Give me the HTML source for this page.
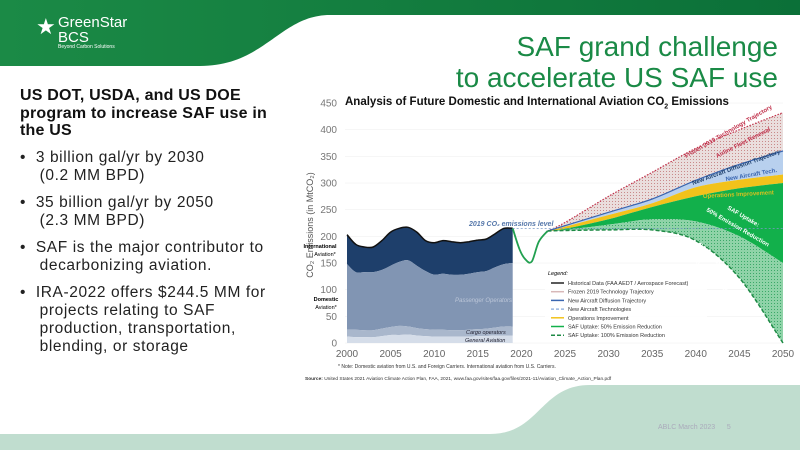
<!DOCTYPE html>
<html><head><meta charset="utf-8"><style>
body{margin:0;width:800px;height:450px;overflow:hidden;background:#fff;font-family:"Liberation Sans",sans-serif;position:relative}
.t{position:absolute;white-space:nowrap}
</style></head><body>
<svg width="800" height="450" style="position:absolute;left:0;top:0">
<defs>
<linearGradient id="hg" x1="0" x2="1"><stop offset="0" stop-color="#1b8a46"/><stop offset="1" stop-color="#0b7038"/></linearGradient>
<pattern id="rd" width="3" height="3" patternUnits="userSpaceOnUse"><rect width="3" height="3" fill="#eadedd"/><rect width="1" height="1" fill="#c98a8a"/></pattern>
<pattern id="gd" width="3" height="3" patternUnits="userSpaceOnUse"><rect width="3" height="3" fill="#8fd3a8"/><rect width="1" height="1" fill="#3aa868"/></pattern>
</defs>
<path d="M0,0H800V15H330C280,15 265,66 200,66H0Z" fill="url(#hg)"/>
<path d="M0,434H490C540,434 540,385 590,385H800V450H0Z" fill="#c0ddcf"/>
<g id="chart"></g>
</svg>
<div class="t" style="left:36px;top:14px;color:#fff;font-size:22px">★</div>
<div class="t" style="left:58px;top:15px;color:#fff;font-size:15px;line-height:15px">GreenStar<br>BCS</div>
<div class="t" style="left:58px;top:44px;color:#fff;font-size:5px">Beyond Carbon Solutions</div>
<div class="t" style="right:22px;top:31px;color:#1a8a46;font-size:28px;text-align:right;line-height:31px;font-weight:300">SAF grand challenge<br>to accelerate US SAF use</div>
<div class="t" style="left:20px;top:87px;font-size:16px;font-weight:bold;line-height:17.5px;color:#111;letter-spacing:0.2px">US DOT, USDA, and US DOE<br>program to increase SAF use in<br>the US</div>
<div class="t" style="left:20px;top:149px;font-size:15.5px;line-height:18px;color:#222;letter-spacing:0.6px">
<div style="position:absolute;top:0">•&nbsp; 3 billion gal/yr by 2030<br>&nbsp;&nbsp;&nbsp; (0.2 MM BPD)</div>
<div style="position:absolute;top:45px">•&nbsp; 35 billion gal/yr by 2050<br>&nbsp;&nbsp;&nbsp; (2.3 MM BPD)</div>
<div style="position:absolute;top:90px">•&nbsp; SAF is the major contributor to<br>&nbsp;&nbsp;&nbsp; decarbonizing aviation.</div>
<div style="position:absolute;top:135px">•&nbsp; IRA-2022 offers $244.5 MM for<br>&nbsp;&nbsp;&nbsp; projects relating to SAF<br>&nbsp;&nbsp;&nbsp; production, transportation,<br>&nbsp;&nbsp;&nbsp; blending, or storage</div>
</div>
<div class="t" style="left:345px;top:96px;font-size:11.5px;font-weight:bold;color:#111">Analysis of Future Domestic and International Aviation CO<sub style="font-size:7px">2</sub> Emissions</div>
<div class="t" style="left:338px;top:364px;font-size:5px;color:#333">* Note: Domestic aviation from U.S. and Foreign Carriers. International aviation from U.S. Carriers.</div>
<div class="t" style="left:305px;top:377px;font-size:4.8px;color:#333"><b>Source:</b> United States 2021 Aviation Climate Action Plan, FAA, 2021, www.faa.gov/sites/faa.gov/files/2021-11/Aviation_Climate_Action_Plan.pdf</div>
<div class="t" style="left:658px;top:424px;font-size:7px;color:#aab">ABLC March 2023 &nbsp;&nbsp;&nbsp;&nbsp; 5</div>
<script>
const X=y=>347+(y-2000)*8.72, Y=v=>343-v*0.5333;
function P2(a){return a.map(p=>[X(p[0]),Y(p[1])]);}
function curve(a,start){const p=P2(a);let d=(start?'M':'L')+p[0][0].toFixed(1)+','+p[0][1].toFixed(1);
for(let i=0;i<p.length-1;i++){const p0=p[i-1]||p[i],p1=p[i],p2=p[i+1],p3=p[i+2]||p2;
const c1=[p1[0]+(p2[0]-p0[0])/6,p1[1]+(p2[1]-p0[1])/6],c2=[p2[0]-(p3[0]-p1[0])/6,p2[1]-(p3[1]-p1[1])/6];
d+=`C${c1[0].toFixed(1)},${c1[1].toFixed(1)} ${c2[0].toFixed(1)},${c2[1].toFixed(1)} ${p2[0].toFixed(1)},${p2[1].toFixed(1)}`;}return d;}
function line(a){return curve(a,true);}
function area(t,b){return curve(t,true)+curve(b.slice().reverse(),false)+'Z';}
const yrs=[2000,2001,2002,2003,2004,2005,2006,2007,2008,2009,2010,2011,2012,2013,2014,2015,2016,2017,2018,2019];
const tot=[203,185,180,180,192,208,215,217,208,192,188,192,190,188,190,193,195,205,215,215];
const dom=[148,133,133,133,137,145,152,155,145,135,128,130,128,128,130,133,135,142,148,150];
const cg=[25,25,24,24,27,30,32,31,28,26,25,25,24,24,25,26,27,29,31,31];
const ga=[12,11,11,11,13,15,15,16,14,13,12,12,12,12,12,13,13,14,14,14];
const z=yrs.map(y=>[y,0]);
const T=yrs.map((y,i)=>[y,tot[i]]),D=yrs.map((y,i)=>[y,dom[i]]),C=yrs.map((y,i)=>[y,cg[i]]),G=yrs.map((y,i)=>[y,ga[i]]);
const P=[2023,2025,2030,2035,2040,2045,2050];
const mk=v=>P.map((y,i)=>[y,v[i]]);
const fro=mk([210,226,275,320,365,400,432]);
const dif=mk([210,220,245,270,305,335,360]);
const tec=mk([210,218,240,262,292,306,316]);
const grn=mk([210,214,232,255,275,290,300]);
const g50=mk([210,212,222,232,228,200,150]);
const g100=mk([210,211,212,212,192,122,0]);
let s='';
for(let v=0;v<=450;v+=50){s+=`<line x1="345" x2="783" y1="${Y(v)}" y2="${Y(v)}" stroke="#eee" stroke-width="0.5"/><text x="337" y="${Y(v)+3.5}" font-size="10" fill="#777" text-anchor="end">${v}</text>`;}
for(let y=2000;y<=2050;y+=5)s+=`<text x="${X(y)}" y="357" font-size="10" fill="#666" text-anchor="middle">${y}</text>`;
s+=`<text transform="translate(313,225) rotate(-90)" font-size="9" fill="#555" text-anchor="middle">CO₂ Emissions (in MtCO₂)</text>`;
s+=`<path d="${area(T,D)}" fill="#1e3f6b"/><path d="${area(D,C)}" fill="#8195b3"/><path d="${area(C,G)}" fill="#a9b7cc"/><path d="${area(G,z)}" fill="#d5dde9"/>`;
s+=`<path d="${line(T)}" stroke="#111" stroke-width="1.5" fill="none"/>`;
s+=`<path d="${area(fro,dif)}" fill="url(#rd)"/><path d="${area(dif,tec)}" fill="#b8d0ee"/><path d="${area(tec,grn)}" fill="#f2c21b"/><path d="${area(grn,g50)}" fill="#12b04b"/><path d="${area(g50,g100)}" fill="url(#gd)"/>`;
s+=`<path d="${line(fro)}" stroke="#c0304a" stroke-width="1.2" stroke-dasharray="1.5,1.5" fill="none"/><path d="${line(dif)}" stroke="#3a66b0" stroke-width="1.2" fill="none"/>`;
s+=`<path d="${line([[2019,215],[2019.8,175],[2020.5,156],[2021.2,153],[2022,190],[2023,210]])}" stroke="#22a050" stroke-width="1.8" fill="none"/>`;
s+=`<path d="${line(g100)}" stroke="#1e8a45" stroke-width="1.5" stroke-dasharray="4,2" fill="none"/>`;
s+=`<line x1="${X(2019)}" x2="783" y1="${Y(215)}" y2="${Y(215)}" stroke="#7a9ac8" stroke-width="0.7" stroke-dasharray="2,2"/>`;
s+=`<text x="469" y="226" font-size="7" font-style="italic" fill="#5577aa" font-weight="bold">2019 CO₂ emissions level</text>`;
s+=`<text x="320" y="248" font-size="5.5" font-weight="bold" text-anchor="middle">International</text><text x="325" y="256" font-size="5.5" text-anchor="middle">Aviation*</text>`;
s+=`<text x="326" y="301" font-size="5.5" font-weight="bold" text-anchor="middle">Domestic</text><text x="326" y="309" font-size="5.5" text-anchor="middle">Aviation*</text>`;
s+=`<text x="455" y="302" font-size="6" fill="#bcc6d8" font-style="italic">Passenger Operators</text><text x="466" y="334" font-size="5.5" font-style="italic" fill="#223">Cargo operators</text><text x="465" y="342" font-size="5.5" font-style="italic" fill="#223">General Aviation</text>`;
s+=`<rect x="545" y="269" width="162" height="73" fill="#fff" opacity="0.9"/><text x="548" y="275" font-size="5.5" font-style="italic">Legend:</text>`;
const L=[['#222','','Historical Data (FAA AEDT / Aerospace Forecast)'],['#d8b8b8','','Frozen 2019 Technology Trajectory'],['#3a66b0','','New Aircraft Diffusion Trajectory'],['#9ab8e0','3,2','New Aircraft Technologies'],['#f2c21b','','Operations Improvement'],['#12b04b','','SAF Uptake: 50% Emission Reduction'],['#1e8a45','4,2','SAF Uptake: 100% Emission Reduction']];
L.forEach((l,i)=>{const y=283+i*8.7;s+=`<line x1="551" x2="564" y1="${y}" y2="${y}" stroke="${l[0]}" stroke-width="1.5" stroke-dasharray="${l[1]}"/><text x="568" y="${y+2}" font-size="5.5" fill="#333">${l[2]}</text>`;});
const lab=(x,y,r,c,t,fs)=>`<text transform="translate(${x},${y}) rotate(${r})" font-size="${fs||6}" font-weight="bold" fill="${c}">${t}</text>`;
s+=lab(686,158,-30,'#c0304a','Frozen 2019 Technology Trajectory');
s+=lab(717,158,-27,'#c0304a','Airline Fleet Renewal');
s+=lab(693,185,-20,'#1e3f6b','New Aircraft Diffusion Trajectory');
s+=lab(726,181,-10,'#3a66b0','New Aircraft Tech.');
s+=lab(703,198,-3,'#d8c020','Operations Improvement');
s+=lab(727,209,30,'#fff','SAF Uptake:');
s+=lab(706,211,30,'#fff','50% Emission Reduction');
s+=lab(698,245,45,'#fff','SAF Uptake:');
s+=lab(676,243,45,'#fff','100% Emission Reduction');
document.getElementById('chart').innerHTML=s;
</script>
</body></html>
